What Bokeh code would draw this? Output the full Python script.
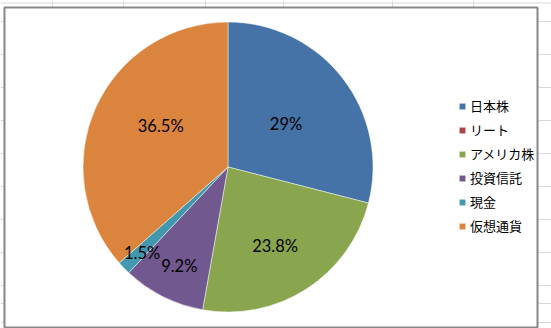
import math
from bokeh.plotting import figure
from bokeh.models import ColumnDataSource, Legend, LegendItem
from bokeh.core.properties import value
from bokeh.embed import file_html
from bokeh.resources import INLINE

# ---- data ----
categories = ["日本株", "リート", "アメリカ株", "投資信託", "現金", "仮想通貨"]
shares = [29.0, 0.0, 23.8, 9.2, 1.5, 36.5]
label_texts = ["29%", "", "23.8%", "9.2%", "1.5%", "36.5%"]
colors = ["#4572A7", "#AA4643", "#89A54E", "#71588F", "#4198AF", "#DB843D"]

# ---- layout (screen px, y measured from top) ----
W, H = 551, 328
CX, CY, R = 227.5, 166.5, 145
label_r_frac = [0.50, 0.5, 0.635, 0.763, 0.839, 0.545]
label_nudge_deg = [1.0, 0.0, 2.0, -0.5, -1.0, 7.3]
sheet_rows = [2.5, 21, 54, 87, 120, 153, 186, 219, 252, 285, 303, 322]
sheet_cols = [52, 123, 205, 283, 392, 473]

p = figure(width=W, height=H, x_range=(0, W), y_range=(0, H),
           output_backend="svg", toolbar_location=None, min_border=0)
p.axis.visible = False
p.grid.visible = False
p.outline_line_color = None
p.background_fill_color = "white"
p.border_fill_color = "white"

# spreadsheet grid behind the chart
p.segment(x0=[0] * len(sheet_rows), x1=[W] * len(sheet_rows),
          y0=[H - y for y in sheet_rows], y1=[H - y for y in sheet_rows],
          line_color="#d9d9d9", line_width=1)
p.segment(x0=sheet_cols, x1=sheet_cols, y0=[0] * len(sheet_cols), y1=[H] * len(sheet_cols),
          line_color="#d9d9d9", line_width=1)

# chart frame
p.quad(left=[4], right=[537], top=[H - 7], bottom=[H - 327],
       fill_color="white", line_color="#878787", line_width=2)

# pie wedges (clockwise from 12 o'clock)
total = sum(shares)
starts, ends, mid_fracs, radii = [], [], [], []
cum = 0.0
for s in shares:
    a0 = math.pi / 2 - 2 * math.pi * cum / total
    mid_fracs.append((cum + s / 2) / total)
    cum += s
    a1 = math.pi / 2 - 2 * math.pi * cum / total
    starts.append(a0)
    ends.append(a1)
    radii.append(R if s > 0 else 0)

src = ColumnDataSource(dict(cat=categories, val=shares, start=starts, end=ends,
                            color=colors, r=radii))
wr = p.wedge(x=CX, y=H - CY, radius="r", radius_units="screen",
             start_angle="start", end_angle="end", direction="clock",
             fill_color="color", line_color="white", line_width=0.6, line_alpha=0.8,
             source=src)

# data labels
lx, ly, lt = [], [], []
for s, mf, f, nd, t in zip(shares, mid_fracs, label_r_frac, label_nudge_deg, label_texts):
    if s <= 0:
        continue
    th = math.radians(mf * 360 + nd)
    lx.append(CX + R * f * math.sin(th))
    ly.append(H - CY + R * f * math.cos(th))
    lt.append(t)
p.text(x=lx, y=ly, text=lt, text_align="center", text_baseline="middle",
       text_font=value("Lato"), text_font_size="16.5px", text_color="#000000")

# legend
items = [LegendItem(label=c, renderers=[wr], index=i) for i, c in enumerate(categories)]
legend = Legend(items=items, location=(458, 93), orientation="vertical",
                glyph_width=8, glyph_height=8, label_standoff=4,
                label_height=18, spacing=5, padding=0, margin=0,
                label_text_font="Noto Sans CJK JP", label_text_font_size="13px",
                label_text_color="#000000",
                border_line_color=None, background_fill_alpha=0)
p.add_layout(legend, "center")

open("out.html", "w").write(file_html(p, INLINE))
